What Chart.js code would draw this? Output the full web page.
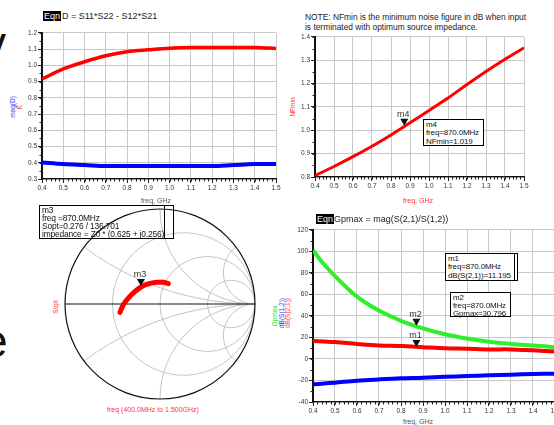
<!DOCTYPE html>
<html>
<head>
<meta charset="utf-8">
<script src="https://cdn.jsdelivr.net/npm/chart.js@4.4.1/dist/chart.umd.min.js"></script>
<style>
  body { margin:0; width:554px; height:425px; overflow:hidden; background:#fff; position:relative;
         font-family:'Liberation Sans', Arial, sans-serif; }
  canvas, .t, .box, .vl { position:absolute; }
  .t { white-space:nowrap; line-height:1; font-size:7px; color:#444; }
  .c { transform:translate(-50%,-50%); }
  .rot { transform:translate(-50%,-50%) rotate(-90deg); font-size:6.5px; }
  .eqn { background:#000; color:#fff; font-size:9px; padding:1px 1px 0; }
  .box { border:1px solid #000; background:#fff; font-size:8px; line-height:8.3px; color:#111;
         letter-spacing:-0.15px; padding:1px 2px; box-sizing:border-box; white-space:nowrap; }
  .vl { width:0; border-left:1px solid #000; }
  .big { font-size:46px; color:#111; font-family:'Liberation Sans', Arial, sans-serif; }
</style>
</head>
<body>

<div class="t big" style="left:-17px;top:20px">y</div>
<div class="t big" style="left:-18px;top:318px">e</div>

<canvas id="c1" width="262" height="165" style="left:20px;top:28px"></canvas>
<canvas id="c2" width="237" height="160" style="left:293px;top:32px"></canvas>
<canvas id="c3" width="200" height="200" style="left:60px;top:204px"></canvas>
<canvas id="c4" width="270" height="192" style="left:291px;top:225px"></canvas>

<!-- top-left titles -->
<div class="t eqn" style="left:43px;top:11px">Eqn</div>
<div class="t" style="left:62px;top:12px;font-size:9px;color:#222">D = S11*S22 - S12*S21</div>
<div class="t rot" style="left:13px;top:107px;color:#3333ff">mag(D)</div>
<div class="t rot" style="left:20px;top:107px;color:#ff3333">K</div>
<div class="t c" style="left:156px;top:200px;color:#555">freq, GHz</div>

<!-- top-right titles -->
<div class="t" style="left:305px;top:12px;font-size:8.4px;line-height:10px;color:#222">NOTE: NFmin is the minimum noise figure in dB when input<br>is terminated with optimum source impedance.</div>
<div class="t rot" style="left:293px;top:107px;color:#ff3333">NFmin</div>
<div class="t c" style="left:418px;top:200px;color:#ff3333">freq, GHz</div>
<div class="box" style="left:423px;top:119px;width:61px;height:27px">m4<br>freq=870.0MHz<br>NFmin=1.019</div>

<!-- smith titles -->
<div class="t rot" style="left:56px;top:307px;color:#ff3333">Sopt</div>
<div class="t c" style="left:153px;top:409px;color:#ff3333">freq (400.0MHz to 1.500GHz)</div>
<div class="box" style="left:39px;top:205px;width:135px;height:34px;background:transparent;line-height:8px;padding-top:0;font-size:8.4px">m3<br>freq =870.0MHz<br>Sopt=0.276 / 136.701<br>impedance = Z0 * (0.625 + j0.256)</div>
<div class="vl" style="left:164px;top:205px;height:34px"></div>

<!-- bottom-right titles -->
<div class="t eqn" style="left:316px;top:214px">Eqn</div>
<div class="t" style="left:334px;top:215px;font-size:9px;color:#222">Gpmax = mag(S(2,1)/S(1,2))</div>
<div class="t rot" style="left:275px;top:316px;color:#22dd22">Gpmax</div>
<div class="t rot" style="left:282px;top:313px;color:#3333ff">dB(S(1,2))</div>
<div class="t rot" style="left:288px;top:313px;color:#ff3333">dB(S(2,1))</div>
<div class="t c" style="left:418px;top:421px;color:#555">freq, GHz</div>
<div class="box" style="left:445px;top:253px;width:73px;height:28px">m1<br>freq=870.0MHz<br>dB(S(2,1))=11.195</div>
<div class="vl" style="left:514px;top:253px;height:28px"></div>
<div class="box" style="left:450px;top:292px;width:61px;height:25px;line-height:7.8px">m2<br>freq=870.0MHz<br>Gpmax=30.796</div>

<script>
// ── Data ───────────────────────────────────────────────────────────────────
const FREQ   = [0.4, 0.5, 0.6, 0.7, 0.8, 0.9, 1.0, 1.1, 1.2, 1.3, 1.4, 1.5];
const K_VAL  = [0.916, 0.978, 1.022, 1.059, 1.084, 1.096, 1.106, 1.110, 1.110, 1.110, 1.110, 1.104];
const MAG_D  = [0.402, 0.392, 0.386, 0.380, 0.380, 0.380, 0.380, 0.380, 0.380, 0.386, 0.392, 0.392];
const NFMIN  = [0.806, 0.845, 0.887, 0.932, 0.980, 1.032, 1.085, 1.138, 1.196, 1.252, 1.304, 1.353];

const FREQ_G = [0.4, 0.45, 0.5, 0.6, 0.7, 0.8, 0.9, 1.0, 1.1, 1.2, 1.3, 1.4, 1.5];
const GPMAX  = [101, 88, 77, 58, 45, 35.5, 28.5, 23, 19, 16, 14, 12.5, 11];
const DB_S21 = [16.6, 16.2, 15.7, 14, 12.6, 12, 11, 10, 9.5, 8.9, 8.9, 8, 7];
const DB_S12 = [-23.6, -22.8, -22, -20.2, -19, -18, -17.4, -16.5, -15.9, -15.2, -14.6, -14, -13.7];

// Sopt reflection coefficient (real / imag), 0.4 → 1.5 GHz
const SOPT_RE = [-0.421, -0.386, -0.333, -0.274, -0.200, -0.123, -0.035, 0.035, 0.088];
const SOPT_IM = [-0.088, -0.007, 0.063, 0.123, 0.179, 0.211, 0.228, 0.228, 0.214];

// Smith chart grid values
const SMITH_R = [1/3, 1, 3];
const SMITH_X = [1/3, 1, 3];

// Markers at 870 MHz
const M_FREQ = 0.87;
const M_NF = 1.019, M_GP = 30.796, M_S21 = 11.195;
const M_SOPT = [-0.201, 0.189];

const RED = '#ff0000', BLUE = '#0000ff', GREEN = '#2cf02c';
const FONT = { family: "'Liberation Sans', Arial, sans-serif", size: 6.5 };

const xy = (xs, ys) => xs.map((x, i) => ({ x, y: ys[i] }));

// ── Plugins ────────────────────────────────────────────────────────────────
const minorTicks = {
  id: 'minorTicks',
  afterDraw(chart, args, opts) {
    const { ctx, chartArea: a, scales: { x, y } } = chart;
    ctx.save();
    ctx.strokeStyle = '#222'; ctx.lineWidth = 1;
    ctx.beginPath();
    for (let v = x.min; v <= x.max + 1e-9; v += opts.x) {
      const px = Math.round(x.getPixelForValue(v)) + 0.5;
      ctx.moveTo(px, a.bottom); ctx.lineTo(px, a.bottom + 2.5);
    }
    for (let v = y.min; v <= y.max + 1e-9; v += opts.y) {
      const py = Math.round(y.getPixelForValue(v)) + 0.5;
      ctx.moveTo(a.left - 2.5, py); ctx.lineTo(a.left, py);
    }
    ctx.stroke();
    ctx.restore();
  }
};

const markers = {
  id: 'mk',
  afterDatasetsDraw(chart, args, opts) {
    const { ctx, scales: { x, y } } = chart;
    (opts.items || []).forEach(m => {
      const px = x.getPixelForValue(m.x), py = y.getPixelForValue(m.y);
      ctx.save();
      ctx.fillStyle = '#111';
      ctx.beginPath();
      ctx.moveTo(px, py); ctx.lineTo(px - 4, py - 7); ctx.lineTo(px + 4, py - 7);
      ctx.closePath(); ctx.fill();
      ctx.font = "9px 'Liberation Sans', Arial, sans-serif";
      ctx.textAlign = 'center'; ctx.textBaseline = 'bottom';
      ctx.fillStyle = '#333';
      ctx.fillText(m.label, px - 1, py - 7);
      ctx.restore();
    });
  }
};

const smithGrid = {
  id: 'smithGrid',
  beforeDatasetsDraw(chart) {
    const { ctx, scales: { x, y } } = chart;
    const cx = x.getPixelForValue(0), cy = y.getPixelForValue(0);
    const R = x.getPixelForValue(1) - cx;
    ctx.save();
    ctx.beginPath(); ctx.arc(cx, cy, R, 0, 2 * Math.PI); ctx.clip();
    ctx.strokeStyle = '#c4c4c4'; ctx.lineWidth = 1;
    SMITH_R.forEach(r => {
      ctx.beginPath(); ctx.arc(cx + r / (1 + r) * R, cy, R / (1 + r), 0, 2 * Math.PI); ctx.stroke();
    });
    SMITH_X.forEach(xv => {
      [1, -1].forEach(s => {
        ctx.beginPath(); ctx.arc(cx + R, cy - s * R / xv, R / xv, 0, 2 * Math.PI); ctx.stroke();
      });
    });
    ctx.restore();
    ctx.save();
    ctx.strokeStyle = '#111'; ctx.lineWidth = 1.2;
    ctx.beginPath(); ctx.arc(cx, cy, R, 0, 2 * Math.PI); ctx.stroke();
    ctx.beginPath(); ctx.moveTo(cx - R, cy); ctx.lineTo(cx + R, cy); ctx.stroke();
    ctx.restore();
  }
};

// ── Rectangular plot helper ────────────────────────────────────────────────
function rectChart(id, o) {
  return new Chart(document.getElementById(id), {
    type: 'scatter',
    data: { datasets: o.datasets.map(d => ({
      data: d.data, borderColor: d.color, backgroundColor: d.color, borderWidth: d.width,
      showLine: true, pointRadius: 0, tension: 0.35, borderCapStyle: 'butt',
    })) },
    plugins: [minorTicks, markers],
    options: {
      responsive: false, animation: false, events: [],
      layout: { padding: { top: o.padTop, right: 6, left: 0, bottom: 0 } },
      plugins: {
        legend: { display: false }, tooltip: { enabled: false },
        minorTicks: { x: 0.02, y: o.yStep / 2 },
        mk: { items: o.markers || [] },
      },
      scales: {
        x: {
          type: 'linear', min: 0.4, max: 1.5,
          afterFit: s => { s.height = o.xh; },
          ticks: { stepSize: 0.1, autoSkip: false, maxRotation: 0, font: FONT, color: '#333', padding: 1,
                   callback: v => v.toFixed(1) },
          grid: { color: '#c8c8c8', tickColor: '#222', tickLength: 4 },
          border: { color: '#111', width: 1.2 },
        },
        y: {
          min: o.yMin, max: o.yMax,
          afterFit: s => { s.width = o.yw; },
          ticks: { stepSize: o.yStep, font: FONT, color: '#333', padding: 1,
                   callback: v => v.toFixed(o.dec) },
          grid: { color: '#c8c8c8', tickColor: '#222', tickLength: 4 },
          border: { color: '#111', width: 2 },
        },
      },
    },
  });
}

rectChart('c1', {
  yMin: 0.3, yMax: 1.2, yStep: 0.1, dec: 1, yw: 22, xh: 14, padTop: 4,
  datasets: [
    { data: xy(FREQ, MAG_D), color: BLUE, width: 4 },
    { data: xy(FREQ, K_VAL), color: RED, width: 3.5 },
  ],
});

rectChart('c2', {
  yMin: 0.8, yMax: 1.4, yStep: 0.1, dec: 1, yw: 22, xh: 15, padTop: 4,
  datasets: [ { data: xy(FREQ, NFMIN), color: RED, width: 3 } ],
  markers: [ { x: M_FREQ, y: M_NF, label: 'm4' } ],
});

rectChart('c4', {
  yMin: -40, yMax: 120, yStep: 20, dec: 0, yw: 22, xh: 15, padTop: 4,
  datasets: [
    { data: xy(FREQ_G, DB_S12), color: BLUE, width: 4 },
    { data: xy(FREQ_G, DB_S21), color: RED, width: 4 },
    { data: xy(FREQ_G, GPMAX), color: GREEN, width: 4 },
  ],
  markers: [
    { x: M_FREQ, y: M_GP, label: 'm2' },
    { x: M_FREQ, y: M_S21, label: 'm1' },
  ],
});

// ── Smith chart ────────────────────────────────────────────────────────────
new Chart(document.getElementById('c3'), {
  type: 'scatter',
  data: { datasets: [{
    data: xy(SOPT_RE, SOPT_IM), borderColor: RED, backgroundColor: RED, borderWidth: 5,
    showLine: true, pointRadius: 0, tension: 0.4, borderCapStyle: 'round',
  }] },
  plugins: [smithGrid, markers],
  options: {
    responsive: false, animation: false, events: [],
    layout: { padding: 5 },
    plugins: {
      legend: { display: false }, tooltip: { enabled: false },
      mk: { items: [ { x: M_SOPT[0], y: M_SOPT[1], label: 'm3' } ] },
    },
    scales: {
      x: { type: 'linear', min: -1, max: 1, display: false },
      y: { type: 'linear', min: -1, max: 1, display: false },
    },
  },
});
</script>
</body>
</html>
